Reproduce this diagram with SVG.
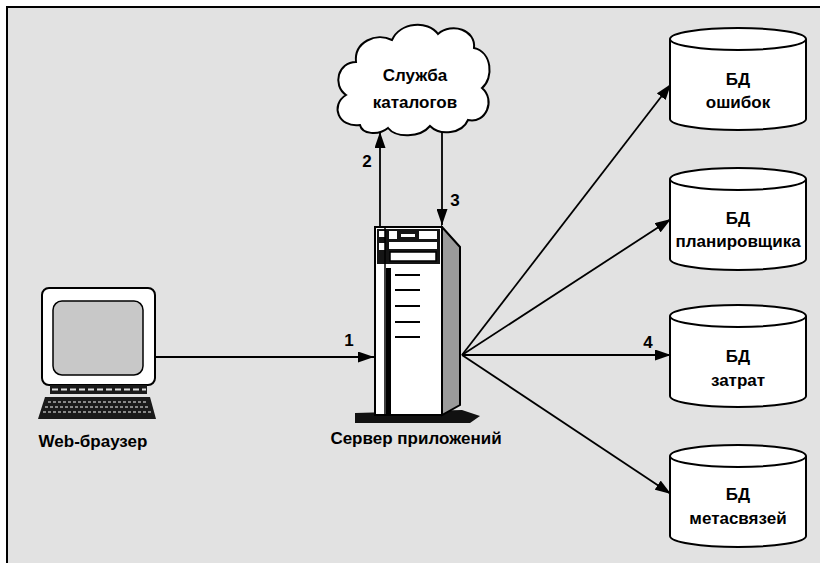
<svg xmlns="http://www.w3.org/2000/svg" width="820" height="563" viewBox="0 0 820 563">
  <style>
    .lbl { font-family: "Liberation Sans Narrow", "Liberation Sans", Arial, sans-serif; font-weight: bold; font-size: 17px; fill: #000; text-anchor: middle; }
    .num { font-family: "Liberation Sans", Arial, sans-serif; font-weight: bold; font-size: 17px; fill: #000; text-anchor: middle; }
    .shape { fill: #fff; stroke: #000; stroke-width: 2; }
    .conn { fill: none; stroke: #000; stroke-width: 1.8; }
  </style>
  <defs>
    <marker id="ah" viewBox="0 0 16 11" refX="16" refY="5.5" markerWidth="16" markerHeight="11" markerUnits="userSpaceOnUse" orient="auto">
      <path d="M0,0 L16,5.5 L0,11 Z" fill="#000"/>
    </marker>
    <!-- database cylinder, origin at top-left of the bounding box -->
    <g id="cyl">
      <path class="shape" d="M0,11 V91 A68,11 0 0 0 136,91 V11 A68,11 0 0 0 0,11 Z"/>
      <path fill="none" stroke="#000" stroke-width="2" d="M0,11 A68,11 0 0 0 136,11"/>
    </g>
  </defs>

  <!-- page background and frame -->
  <rect x="0" y="0" width="820" height="563" fill="#fff"/>
  <rect x="7" y="7" width="813" height="556" fill="#e2e2e2"/>
  <path d="M7,563 V7 H820" fill="none" stroke="#000" stroke-width="2"/>

  <!-- connectors -->
  <g id="connectors">
    <line class="conn" x1="155" y1="357" x2="374" y2="357" stroke-width="1.4" marker-end="url(#ah)"/>
    <line class="conn" x1="380" y1="226" x2="380" y2="132" stroke-width="2" marker-end="url(#ah)"/>
    <line class="conn" x1="442" y1="131" x2="442" y2="225" stroke-width="1.2" marker-end="url(#ah)"/>
    <line class="conn" x1="462" y1="355" x2="671" y2="84" marker-end="url(#ah)"/>
    <line class="conn" x1="462" y1="355" x2="671" y2="219" marker-end="url(#ah)"/>
    <line class="conn" x1="462" y1="355" x2="671" y2="355" marker-end="url(#ah)"/>
    <line class="conn" x1="462" y1="355" x2="671" y2="494" marker-end="url(#ah)"/>
    <text class="num" x="349" y="346">1</text>
    <text class="num" x="367" y="167">2</text>
    <text class="num" x="455" y="206">3</text>
    <text class="num" x="648" y="348">4</text>
  </g>

  <!-- directory service cloud -->
  <g id="directory">
    <path class="shape" d="M360,125 C338,128 330,105 346,95 C332,85 338,62 356,62 C354,42 376,32 392,40 C400,22 428,20 438,34 C452,22 476,30 474,48 C492,52 494,78 482,88 C496,100 486,124 468,120 C462,134 440,136 430,126 C420,138 396,138 388,128 C378,136 362,134 360,125 Z"/>
    <text class="lbl" x="415" y="81">Служба</text>
    <text class="lbl" x="415" y="108">каталогов</text>
  </g>

  <!-- web browser workstation -->
  <g id="browser">
    <rect class="shape" x="42" y="288" width="113" height="97" rx="7"/>
    <rect x="53" y="301" width="90" height="74" rx="9" fill="#c8c8c8" stroke="#000" stroke-width="1.5"/>
    <rect x="50" y="385" width="97" height="9" fill="#1a1a1a"/>
    <line x1="52" y1="389.5" x2="146" y2="389.5" stroke="#ddd" stroke-width="2" stroke-dasharray="6 3"/>
    <polygon points="45,397 150,397 156,419 38,419" fill="#1a1a1a"/>
    <line x1="48" y1="402" x2="148" y2="402" stroke="#888" stroke-width="2" stroke-dasharray="3 2"/>
    <line x1="45" y1="407" x2="150" y2="407" stroke="#888" stroke-width="2" stroke-dasharray="3 2"/>
    <line x1="43" y1="412" x2="152" y2="412" stroke="#888" stroke-width="2" stroke-dasharray="3 2"/>
    <text class="lbl" x="93" y="447">Web-браузер</text>
  </g>

  <!-- application server tower -->
  <g id="server">
    <polygon points="355,413 462,410 480,416 470,423 355,423" fill="#111"/>
    <polygon points="442,227 460,247 460,405 442,415" fill="#9a9a9a" stroke="#000" stroke-width="2"/>
    <rect class="shape" x="375" y="227" width="67" height="188"/>
    <rect x="377" y="229" width="63" height="35" fill="#151515"/>
    <rect x="379" y="231" width="6" height="6" fill="#fff"/>
    <rect x="379" y="243" width="6" height="7" fill="#fff"/>
    <rect x="389" y="231" width="8" height="8" fill="#fff"/>
    <rect x="401" y="234" width="14" height="3" fill="#fff"/>
    <rect x="419" y="231" width="18" height="8" fill="#fff"/>
    <rect x="389" y="242" width="48" height="7" fill="#fff"/>
    <rect x="390" y="252" width="46" height="9" fill="#fff" stroke="#000" stroke-width="1.5"/>
    <line x1="385" y1="227" x2="385" y2="415" stroke="#000" stroke-width="1.5"/>
    <rect x="386" y="268" width="5" height="147" fill="#000"/>
    <g stroke="#000" stroke-width="2">
      <line x1="395" y1="275" x2="420" y2="275"/>
      <line x1="395" y1="290" x2="420" y2="290"/>
      <line x1="395" y1="306" x2="420" y2="306"/>
      <line x1="395" y1="322" x2="420" y2="322"/>
      <line x1="395" y1="337" x2="420" y2="337"/>
    </g>
    <text class="lbl" x="416" y="444">Сервер приложений</text>
  </g>

  <!-- databases -->
  <g id="db-errors">
    <use href="#cyl" x="670" y="28"/>
    <text class="lbl" x="738" y="85">БД</text>
    <text class="lbl" x="738" y="108">ошибок</text>
  </g>
  <g id="db-scheduler">
    <use href="#cyl" x="670" y="168"/>
    <text class="lbl" x="738" y="224">БД</text>
    <text class="lbl" x="738" y="247">планировщика</text>
  </g>
  <g id="db-costs">
    <use href="#cyl" x="670" y="305"/>
    <text class="lbl" x="738" y="362">БД</text>
    <text class="lbl" x="738" y="386">затрат</text>
  </g>
  <g id="db-metalinks">
    <use href="#cyl" x="670" y="445"/>
    <text class="lbl" x="738" y="500">БД</text>
    <text class="lbl" x="738" y="524">метасвязей</text>
  </g>
</svg>
